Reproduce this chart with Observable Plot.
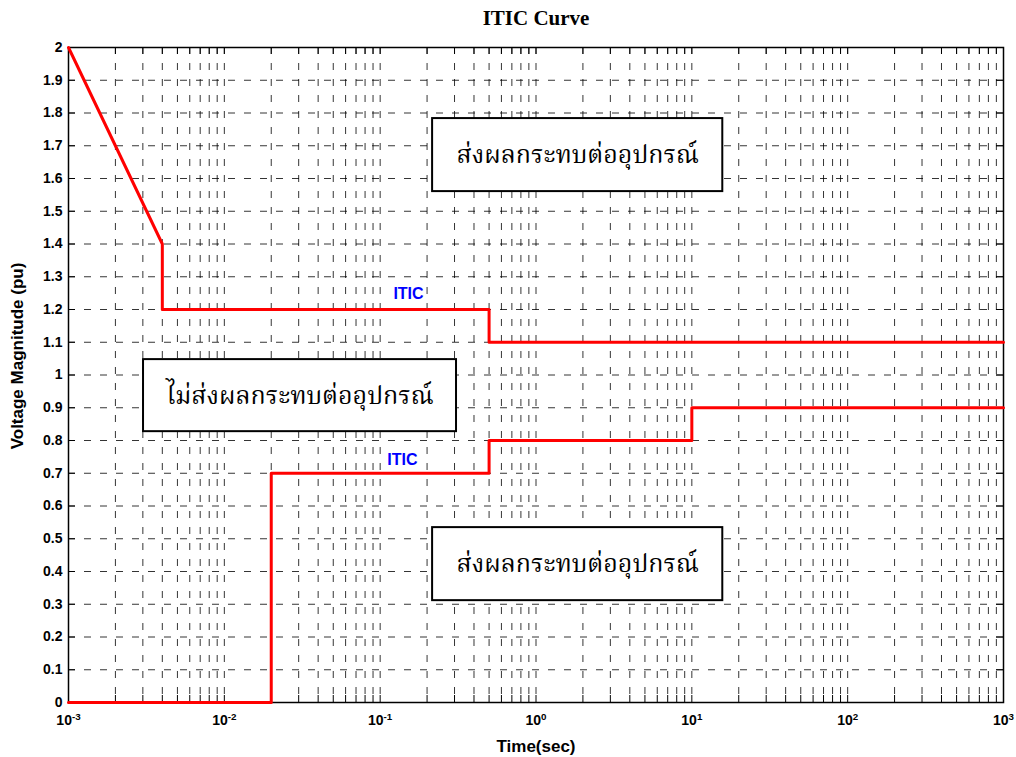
<!DOCTYPE html>
<html><head><meta charset="utf-8">
<script src="https://cdn.jsdelivr.net/npm/d3@7"></script>
<script src="https://cdn.jsdelivr.net/npm/@observablehq/plot@0.6"></script>
<style>body{margin:0;background:#fff} #chart svg{display:block;background:#fff}</style>
</head><body><div id="chart"></div>
<script>
// ---- data ----
const upperTime = [0.001, 0.004, 0.004, 0.5, 0.5, 1000];
const upperVolt = [2.0, 1.4, 1.2, 1.2, 1.1, 1.1];
const lowerTime = [0.001, 0.02, 0.02, 0.5, 0.5, 10, 10, 1000];
const lowerVolt = [0, 0, 0.7, 0.7, 0.8, 0.8, 0.9, 0.9];
const majorTimeTicks = [1e-3, 1e-2, 1e-1, 1, 10, 100, 1000];
const timeTickExponents = ["-3", "-2", "-1", "0", "1", "2", "3"];
const minorMultipliers = [2, 3, 4, 5, 6, 7, 8, 9];
const voltTicks = [0, 0.1, 0.2, 0.3, 0.4, 0.5, 0.6, 0.7, 0.8, 0.9, 1, 1.1, 1.2, 1.3, 1.4, 1.5, 1.6, 1.7, 1.8, 1.9, 2];
const iticLabelText = ["ITIC", "ITIC"];
const iticLabelTime = [0.152, 0.139];
const iticLabelVolt = [1.249, 0.742];
const boxText = ["ส่งผลกระทบต่ออุปกรณ์", "ไม่ส่งผลกระทบต่ออุปกรณ์", "ส่งผลกระทบต่ออุปกรณ์"];
const boxTimeStart = [0.217, 0.00303, 0.217];
const boxTimeEnd = [15.8, 0.309, 15.8];
const boxVoltTop = [1.783, 1.047, 0.534];
const boxVoltBottom = [1.560, 0.827, 0.311];
const titleText = "ITIC Curve";
const xLabelText = "Time(sec)";
const yLabelText = "Voltage Magnitude (pu)";

// ---- derived tables ----
const upper = upperTime.map((t, i) => ({t, v: upperVolt[i]}));
const lower = lowerTime.map((t, i) => ({t, v: lowerVolt[i]}));
const allTimeTicks = majorTimeTicks.slice(0, -1).flatMap(m => [m, ...minorMultipliers.map(k => k * m)]).concat([majorTimeTicks[majorTimeTicks.length - 1]]);
const itic = iticLabelText.map((s, i) => ({s, t: iticLabelTime[i], v: iticLabelVolt[i]}));
const boxes = boxText.map((s, i) => ({s, t1: boxTimeStart[i], t2: boxTimeEnd[i], v1: boxVoltBottom[i], v2: boxVoltTop[i],
  tc: Math.sqrt(boxTimeStart[i] * boxTimeEnd[i]), vc: (boxVoltTop[i] + boxVoltBottom[i]) / 2}));

const W = 1016, H = 757, mL = 68, mR = 13, mT = 47, mB = 55;
const frameH = H - mT - mB, frameW = W - mL - mR;
const tickLen = 7;
const gridStyle = {stroke: "#000", strokeWidth: 0.8, strokeDasharray: "7,9"};
const sans = "Arial, 'Liberation Sans', Helvetica, sans-serif";
const serif = "'Times New Roman', 'Liberation Serif', serif";
const thai = "'Angsana New', 'Noto Serif Thai', 'Noto Sans Thai', 'DejaVu Serif', serif";

const chart = Plot.plot({
  width: W, height: H,
  marginLeft: mL, marginRight: mR, marginTop: mT, marginBottom: mB,
  style: {background: "#fff", color: "#000", fontSize: "14px", fontWeight: "bold", fontFamily: sans},
  x: {type: "log", domain: [1e-3, 1e3]},
  y: {domain: [0, 2]},
  marks: [
    Plot.ruleX(allTimeTicks, gridStyle),
    Plot.ruleY(voltTicks, gridStyle),
    // inward tick marks
    Plot.ruleX(allTimeTicks, {stroke: "#000", strokeWidth: 1, insetTop: frameH - tickLen}),
    Plot.ruleX(allTimeTicks, {stroke: "#000", strokeWidth: 1, insetBottom: frameH - tickLen}),
    Plot.ruleY(voltTicks, {stroke: "#000", strokeWidth: 1, insetRight: frameW - tickLen}),
    Plot.ruleY(voltTicks, {stroke: "#000", strokeWidth: 1, insetLeft: frameW - tickLen}),
    Plot.frame({stroke: "#000", strokeWidth: 1.5}),
    Plot.line(upper, {x: "t", y: "v", stroke: "#ff0000", strokeWidth: 3, curve: "linear"}),
    Plot.line(lower, {x: "t", y: "v", stroke: "#ff0000", strokeWidth: 3, curve: "linear"}),
    Plot.text(itic, {x: "t", y: "v", text: "s", fill: "#0000ff", fontWeight: "bold", fontSize: 16, fontFamily: sans}),
    Plot.rect(boxes, {x1: "t1", x2: "t2", y1: "v1", y2: "v2", fill: "#fff", stroke: "#000", strokeWidth: 2}),
    Plot.text(boxes, {x: "tc", y: "vc", text: "s", fontSize: 25, fontWeight: "normal", fontFamily: thai, fill: "#000"}),
    Plot.axisX({ticks: majorTimeTicks, tickSize: 0, tickPadding: 13, label: null,
      tickFormat: d => "10^" + timeTickExponents[majorTimeTicks.indexOf(d)]}),
    Plot.axisY({ticks: voltTicks, tickSize: 0, tickPadding: 6, label: null,
      tickFormat: d => String(+d.toFixed(1))}),
    Plot.text([titleText], {frameAnchor: "top", lineAnchor: "middle", dy: -29, text: d => d, fontSize: 21, fontWeight: "bold", fontFamily: serif}),
    Plot.text([xLabelText], {frameAnchor: "bottom", lineAnchor: "middle", dy: 44, text: d => d, fontSize: 17, fontWeight: "bold", fontFamily: sans}),
    Plot.text([yLabelText], {frameAnchor: "left", textAnchor: "middle", lineAnchor: "middle", dx: -51, dy: -19, rotate: -90, text: d => d, fontSize: 17, fontWeight: "bold", fontFamily: sans})
  ]
});

// tick label font
d3.select(chart).selectAll('g[aria-label$="tick label"]')
  .attr("font-size", 14).attr("font-weight", "bold").attr("font-family", sans)
  .style("font-size", "14px").style("font-weight", "bold");

// superscript exponents on x tick labels
d3.select(chart).selectAll('g[aria-label="x-axis tick label"] text').each(function() {
  const s = this.textContent;
  const [base, exp] = s.split("^");
  const t = d3.select(this);
  t.text(null);
  t.append("tspan").text(base);
  t.append("tspan").attr("dy", "-0.6em").attr("font-size", "0.7em").text(exp);
});

document.getElementById("chart").appendChild(chart);
</script>
</body></html>
